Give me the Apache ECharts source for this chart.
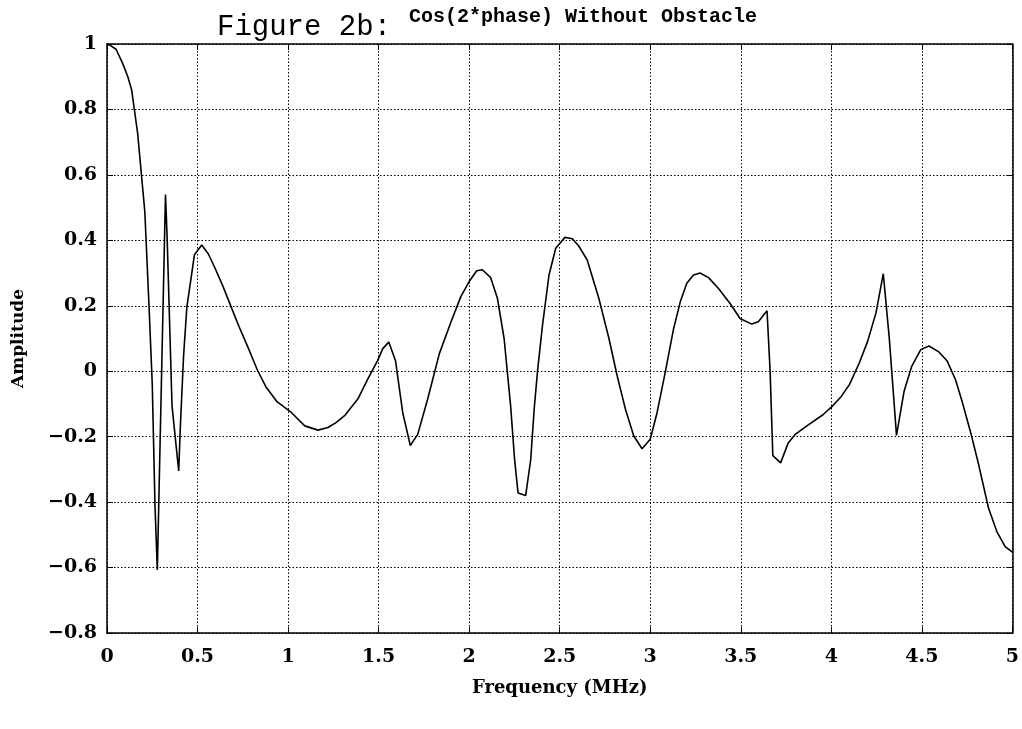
<!DOCTYPE html>
<html>
<head>
<meta charset="utf-8">
<script src="https://cdn.jsdelivr.net/npm/echarts@6/dist/echarts.min.js"></script>
<style>html,body{margin:0;padding:0;background:#fff}#c{width:1022px;height:729px}</style>
</head>
<body>
<div id="c"></div>
<script>
const freq = [0,0.02,0.05,0.087,0.115,0.136,0.169,0.187,0.209,0.232,0.25,0.265,0.278,0.323,0.332,0.359,0.396,0.405,0.423,0.441,0.483,0.523,0.559,0.595,0.64,0.686,0.73,0.777,0.831,0.88,0.94,1.018,1.092,1.165,1.22,1.265,1.312,1.385,1.44,1.495,1.523,1.556,1.593,1.633,1.675,1.716,1.771,1.835,1.9,1.954,2.0,2.042,2.073,2.119,2.156,2.193,2.229,2.251,2.27,2.312,2.34,2.359,2.377,2.405,2.441,2.478,2.529,2.57,2.606,2.652,2.716,2.772,2.817,2.863,2.909,2.955,3.0,3.038,3.083,3.129,3.166,3.202,3.239,3.275,3.322,3.377,3.441,3.496,3.561,3.597,3.645,3.662,3.677,3.72,3.762,3.799,3.863,3.954,4.0,4.055,4.1,4.155,4.201,4.247,4.287,4.32,4.36,4.402,4.444,4.494,4.539,4.594,4.64,4.686,4.722,4.768,4.814,4.868,4.914,4.96,5.0];
const amplitude = [1.0,0.995,0.984,0.94,0.9,0.86,0.728,0.62,0.486,0.2,-0.04,-0.41,-0.607,0.54,0.41,-0.105,-0.305,-0.17,0.048,0.196,0.356,0.386,0.359,0.317,0.26,0.196,0.135,0.075,0.003,-0.05,-0.094,-0.126,-0.167,-0.18,-0.172,-0.157,-0.136,-0.085,-0.024,0.033,0.069,0.089,0.033,-0.126,-0.227,-0.193,-0.085,0.053,0.151,0.228,0.274,0.307,0.31,0.286,0.223,0.1,-0.106,-0.27,-0.372,-0.38,-0.27,-0.116,-0.003,0.14,0.294,0.376,0.409,0.405,0.382,0.34,0.223,0.1,-0.013,-0.116,-0.198,-0.237,-0.208,-0.126,-0.003,0.13,0.212,0.269,0.294,0.3,0.286,0.253,0.207,0.161,0.144,0.151,0.185,0.0,-0.258,-0.28,-0.219,-0.194,-0.168,-0.133,-0.11,-0.077,-0.041,0.026,0.092,0.179,0.298,0.102,-0.196,-0.061,0.015,0.066,0.077,0.059,0.031,-0.026,-0.092,-0.184,-0.286,-0.418,-0.49,-0.536,-0.553];
const titleMain = 'Figure 2b:';
const titleSub = 'Cos(2*phase) Without Obstacle';
const xName = 'Frequency (MHz)';
const yName = 'Amplitude';

const chart = echarts.init(document.getElementById('c'));
const serif = 'DejaVu Serif';
const axisLineStyle = {show:true,onZero:false,lineStyle:{color:'#000',width:1.5}};
const tick = {show:true,inside:true,length:6,lineStyle:{color:'#000',width:1}};
const grid = {show:true,lineStyle:{color:'#000',width:1,type:[1.5,2]}};
chart.setOption({
  animation:false,
  backgroundColor:'#fff',
  title:[
    {text:titleMain,left:212,top:8,textStyle:{fontFamily:'Liberation Mono',fontSize:29,fontWeight:'normal',color:'#000'}},
    {text:titleSub,left:404,top:2,textStyle:{fontFamily:'Liberation Mono',fontSize:20,fontWeight:'bold',color:'#000'}}
  ],
  grid:{left:107,right:8,top:44,bottom:96,containLabel:false},
  xAxis:[
    {type:'value',min:0,max:5,interval:0.5,position:'bottom',
     name:xName,nameLocation:'middle',nameGap:46,
     nameTextStyle:{fontFamily:serif,fontWeight:'bold',fontSize:18,color:'#000'},
     axisLine:axisLineStyle,axisTick:tick,splitLine:grid,
     axisLabel:{fontFamily:serif,fontWeight:'bold',fontSize:19,color:'#000',margin:15,
       formatter:v=>String(v)}},
    {type:'value',min:0,max:5,interval:0.5,position:'top',
     axisLine:axisLineStyle,axisTick:tick,splitLine:{show:false},axisLabel:{show:false}}
  ],
  yAxis:[
    {type:'value',min:-0.8,max:1,interval:0.2,position:'left',
     name:yName,nameLocation:'middle',nameGap:80,nameRotate:90,
     nameTextStyle:{fontFamily:serif,fontWeight:'bold',fontSize:17,color:'#000'},
     axisLine:axisLineStyle,axisTick:tick,splitLine:grid,
     axisLabel:{fontFamily:serif,fontWeight:'bold',fontSize:19,color:'#000',margin:10,
       formatter:v=>{const s=String(Math.round(v*10)/10);return s.replace('-','\u2212');}}},
    {type:'value',min:-0.8,max:1,interval:0.2,position:'right',
     axisLine:axisLineStyle,axisTick:tick,splitLine:{show:false},axisLabel:{show:false}}
  ],
  series:[{
    type:'line',xAxisIndex:0,yAxisIndex:0,
    data:freq.map((f,i)=>[f,amplitude[i]]),
    showSymbol:false,symbol:'none',smooth:false,
    lineStyle:{color:'#000',width:1.6},
    z:5
  }]
});
</script>
</body>
</html>
